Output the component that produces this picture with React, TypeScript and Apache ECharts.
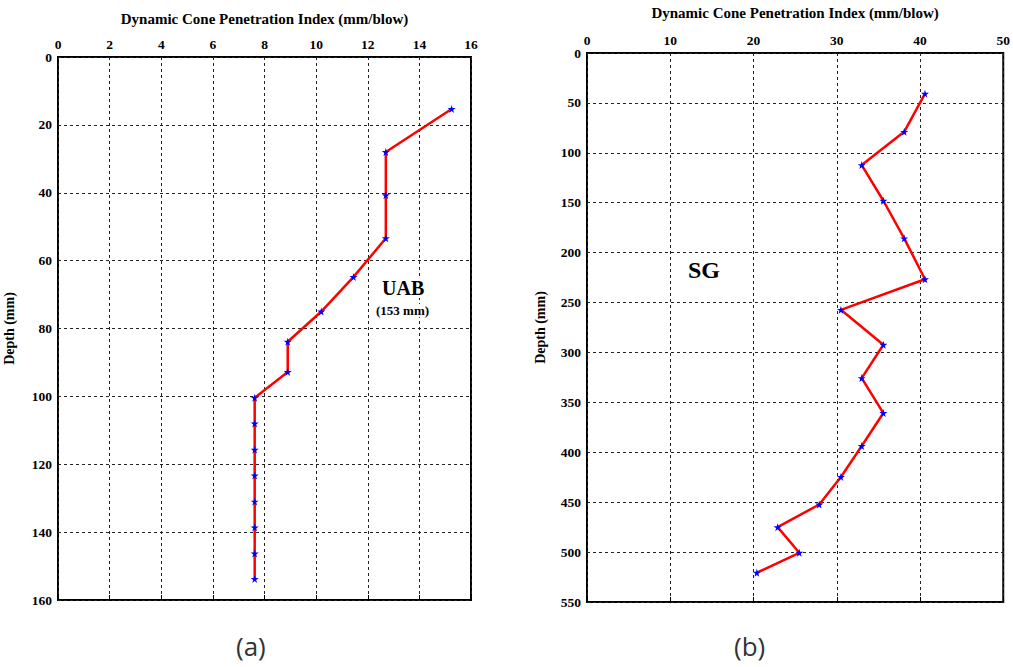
import React, { useEffect, useRef } from "react";
import * as echarts from "echarts";

// Panel (a): UAB layer — DCPI (mm/blow) against cumulative depth (mm)
const uabDcpi = [15.25, 12.7, 12.7, 12.7, 11.45, 10.2, 8.9, 8.9, 7.62, 7.62, 7.62, 7.62, 7.62, 7.62, 7.62, 7.62];
const uabDepth = [15.3, 28.0, 40.7, 53.4, 64.8, 75.0, 83.9, 92.8, 100.4, 108.0, 115.7, 123.3, 131.0, 138.6, 146.3, 153.8];

// Panel (b): SG layer
const sgDcpi = [40.6, 38.1, 33.0, 35.6, 38.1, 40.6, 30.5, 35.6, 33.0, 35.6, 33.0, 30.5, 27.9, 22.9, 25.5, 20.4];
const sgDepth = [40.7, 79, 112.3, 148, 185.7, 226.7, 257.3, 292.3, 325.7, 360.7, 393.7, 424.7, 452.3, 475, 500.7, 520.7];

const axisTitle = "Dynamic Cone Penetration Index (mm/blow)";
const depthTitle = "Depth (mm)";
const captions = ["(a)", "(b)"];
const uabLabel = "UAB";
const uabNote = "(153 mm)";
const sgLabel = "SG";

const SERIF = "'Liberation Serif', 'Times New Roman', serif";
const STAR = "path://M50,0 L61,35 L98,35 L68,57 L79,91 L50,70 L21,91 L32,57 L2,35 L39,35 Z";

const pairs = (xs: number[], ys: number[]) => xs.map((x, i) => [x, ys[i]]);

export default function App() {
  const ref = useRef<HTMLDivElement>(null);

  useEffect(() => {
    if (!ref.current) return;
    const chart = echarts.init(ref.current, null, { renderer: "svg" });

    const tickLabel = { fontFamily: SERIF, fontWeight: "bold" as const, fontSize: 13.5, color: "#000" };
    const nameStyle = { fontFamily: SERIF, fontWeight: "bold" as const, fontSize: 15, color: "#000" };
    const dashed = { show: true, lineStyle: { color: "#222", type: [3, 3] as any, width: 1 } };

    const topAxis = (gi: number, max: number, interval: number, gap: number) => ({
      type: "value",
      gridIndex: gi,
      position: "top",
      min: 0,
      max,
      interval,
      name: axisTitle,
      nameLocation: "middle",
      nameGap: gap,
      nameTextStyle: nameStyle,
      axisLine: { show: false },
      axisTick: { show: false },
      axisLabel: { ...tickLabel, margin: 6 },
      splitLine: dashed,
    });
    const bottomAxis = (gi: number, max: number, interval: number) => ({
      type: "value",
      gridIndex: gi,
      position: "bottom",
      min: 0,
      max,
      interval,
      axisLine: { show: false },
      axisTick: { show: true, inside: true, length: 5, lineStyle: { color: "#000", width: 1 } },
      axisLabel: { show: false },
      splitLine: { show: false },
    });
    const depthAxis = (gi: number, max: number, interval: number, gap: number) => ({
      type: "value",
      gridIndex: gi,
      inverse: true,
      min: 0,
      max,
      interval,
      name: depthTitle,
      nameLocation: "middle",
      nameGap: gap,
      nameRotate: 90,
      nameTextStyle: { ...nameStyle, fontSize: 14 },
      axisLine: { show: false },
      axisTick: { show: false },
      axisLabel: { ...tickLabel, margin: 6 },
      splitLine: dashed,
    });
    const profile = (xi: number, yi: number, data: number[][]) => ({
      type: "line",
      xAxisIndex: xi,
      yAxisIndex: yi,
      data,
      symbol: STAR,
      symbolSize: 8,
      itemStyle: { color: "#0000ff" },
      lineStyle: { color: "#ff0000", width: 2.5 },
      z: 3,
    });

    chart.setOption({
      animation: false,
      backgroundColor: "#fff",
      grid: [
        { left: 58, top: 57, width: 413, height: 543, show: true, borderColor: "#000", borderWidth: 2, backgroundColor: "transparent" },
        { left: 587, top: 52, width: 420, height: 550, show: true, borderColor: "#000", borderWidth: 2, backgroundColor: "transparent" },
      ],
      xAxis: [topAxis(0, 16, 2, 31), bottomAxis(0, 16, 2), topAxis(1, 50, 10, 33), bottomAxis(1, 50, 10)],
      yAxis: [depthAxis(0, 160, 20, 42), depthAxis(1, 550, 50, 40)],
      series: [profile(0, 0, pairs(uabDcpi, uabDepth)), profile(2, 1, pairs(sgDcpi, sgDepth))],
      graphic: [
        { type: "text", left: 381, top: 278, z: 10, style: { text: uabLabel, font: `bold 20px ${SERIF}`, fill: "#000", backgroundColor: "#fff", padding: [0, 1] } },
        { type: "text", left: 375, top: 304, z: 10, style: { text: uabNote, font: `bold 13px ${SERIF}`, fill: "#000", backgroundColor: "#fff", padding: [0, 1] } },
        { type: "text", left: 688, top: 258, z: 10, style: { text: sgLabel, font: `bold 24px ${SERIF}`, fill: "#000" } },
        { type: "text", left: 236, top: 633, style: { text: captions[0], font: "26px 'Open Sans', sans-serif", fill: "#333" } },
        { type: "text", left: 734, top: 633, style: { text: captions[1], font: "26px 'Open Sans', sans-serif", fill: "#333" } },
      ],
    });

    return () => chart.dispose();
  }, []);

  return <div ref={ref} style={{ position: "fixed", left: 0, top: 0, width: 1013, height: 667 }} />;
}
